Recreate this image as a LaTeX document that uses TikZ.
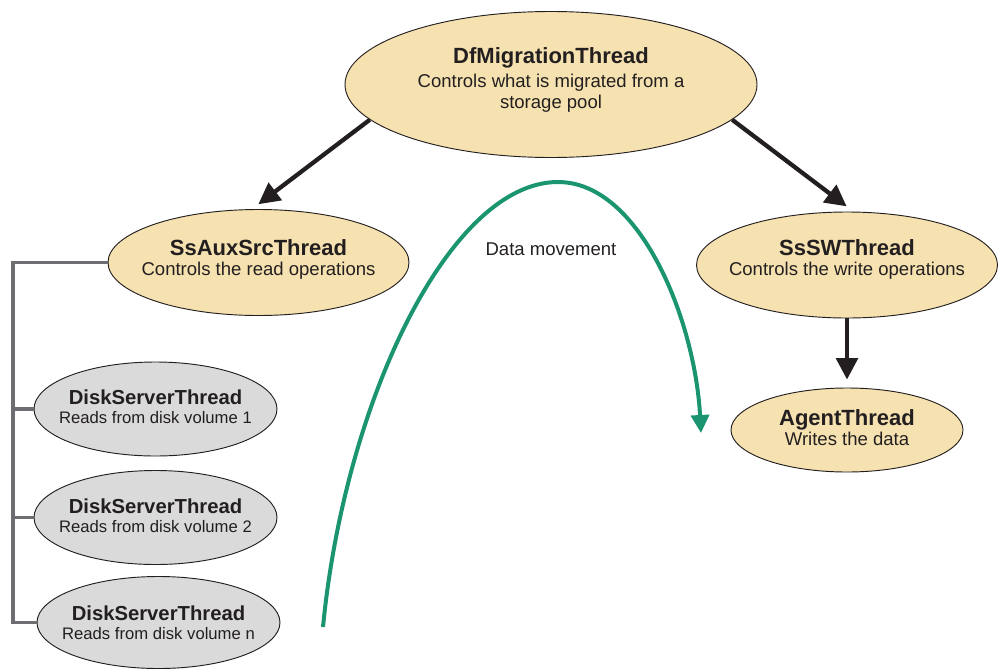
\documentclass[tikz,border=0pt]{standalone}
\usepackage{fontspec}
\setmainfont{Liberation Sans}
\usetikzlibrary{arrows.meta,shapes.geometric}
\definecolor{ink}{HTML}{231F20}
\definecolor{ylw}{HTML}{F6E2B0}
\definecolor{gryf}{HTML}{DADADA}
\definecolor{grn}{HTML}{1A956F}
\definecolor{brkc}{HTML}{6D6E71}
\begin{document}
\begin{tikzpicture}[x=0.75pt,y=-0.75pt,
  ell/.style={ellipse, draw=ink, line width=0.7pt, inner sep=0pt},
  yel/.style={ell, fill=ylw},
  gry/.style={ell, fill=gryf},
  ttl/.style={font=\fontsize{16.5}{19}\selectfont\bfseries, text=ink, inner sep=0pt, anchor=base},
  sub/.style={font=\fontsize{13.9}{16}\selectfont, text=ink, inner sep=0pt, anchor=base},
  dttl/.style={font=\fontsize{15.2}{18}\selectfont\bfseries, text=ink, inner sep=0pt, anchor=base},
  dsub/.style={font=\fontsize{12.5}{15}\selectfont, text=ink, inner sep=0pt, anchor=base},
  arr/.style={draw=ink, line width=3.2pt, -{Triangle[length=16pt,width=16pt]}},
  garr/.style={draw=grn, line width=3pt, -{Triangle[length=13.5pt,width=13.5pt]}},
  brk/.style={draw=brkc, line width=2.4pt}
]
\useasboundingbox (0,0) rectangle (1000,668);

% ellipses
\node[yel, minimum width=309pt, minimum height=109.5pt] (dfm) at (551,84.5) {};
\node[yel, minimum width=225.75pt, minimum height=79.5pt] (aux) at (258.5,262.5) {};
\node[yel, minimum width=225.75pt, minimum height=79.5pt] (ssw) at (847,265) {};
\node[yel, minimum width=174pt, minimum height=63pt] (agt) at (847,430) {};
\node[gry, minimum width=182.25pt, minimum height=70.5pt] (d1) at (155.5,409) {};
\node[gry, minimum width=182.25pt, minimum height=70.5pt] (d2) at (155.5,517.5) {};
\node[gry, minimum width=182.25pt, minimum height=69pt] (d3) at (158.5,622.5) {};

% texts
\node[ttl] (dfm-t) at (551,63.5) {DfMigrationThread};
\node[sub] (dfm-s1) at (551,87.5) {Controls what is migrated from a};
\node[sub] (dfm-s2) at (551,108) {storage pool};
\node[ttl] (aux-t) at (258.5,255) {SsAuxSrcThread};
\node[sub] (aux-s) at (258.5,275) {Controls the read operations};
\node[ttl] (ssw-t) at (847,255) {SsSWThread};
\node[sub] (ssw-s) at (847,275) {Controls the write operations};
\node[ttl] (agt-t) at (847,425) {AgentThread};
\node[sub] (agt-s) at (847,445) {Writes the data};
\node[dttl] (d1-t) at (155.5,404) {DiskServerThread};
\node[dsub] (d1-s) at (155.5,423.3) {Reads from disk volume 1};
\node[dttl] (d2-t) at (155.5,513.3) {DiskServerThread};
\node[dsub] (d2-s) at (155.5,532) {Reads from disk volume 2};
\node[dttl] (d3-t) at (158.5,620.7) {DiskServerThread};
\node[dsub] (d3-s) at (158.5,639) {Reads from disk volume n};
\node[sub] (dm) at (551,255.7) {Data movement};

% arrows
\draw[arr, shorten >=6pt] (dfm.191) -- (aux.97);
\draw[arr, shorten >=6.5pt] (dfm.-11) -- (ssw.83);
\draw[arr, shorten >=6pt] (ssw.south) -- (agt.north);

% bracket
\coordinate (bx) at (13,262.5);
\draw[brk] (aux.west) -- (bx) |- (d3.west);
\draw[brk] (d1.west) -- (d1.west -| bx);
\draw[brk] (d2.west) -- (d2.west -| bx);

% data movement curve
\coordinate (gs) at (323,627);
\coordinate (gp) at (558,182);
\coordinate (ge) at (701,433);
\draw[garr] (gs) .. controls (345,400) and (450,182) .. (gp)
  .. controls (640,182) and (695,320) .. (ge);
\end{tikzpicture}
\end{document}
